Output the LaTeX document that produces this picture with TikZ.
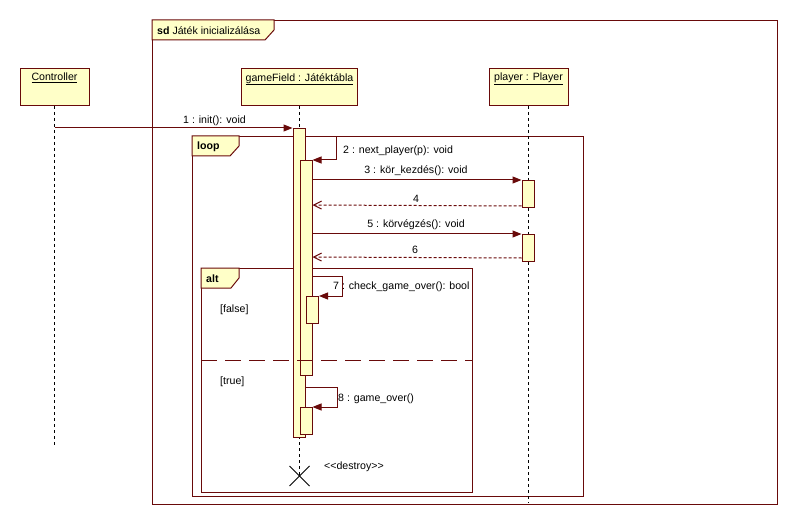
\documentclass[tikz,border=0pt]{standalone}
\usepackage{fontspec}
\setmainfont{Liberation Sans}
\usetikzlibrary{arrows.meta,calc}
\definecolor{ln}{RGB}{105,10,10}
\definecolor{fl}{RGB}{255,255,200}
\begin{document}
\begin{tikzpicture}[x=1pt,y=-1pt,font=\fontsize{10.6}{12.5}\selectfont,
  frame/.style={draw=ln,line width=1pt,inner sep=0pt,anchor=north west},
  hdr/.style={draw=ln,fill=fl,line width=1pt,inner sep=0pt,anchor=north west,minimum height=37pt},
  act/.style={draw=ln,fill=fl,line width=1pt,inner sep=0pt,anchor=north west,minimum width=12pt},
  lifeline/.style={draw=black,dash pattern=on 3pt off 3pt,line width=1pt},
  msg/.style={draw=ln,line width=1pt,-{Triangle[length=9pt,width=7pt]}},
  ret/.style={draw=ln,line width=1pt,dash pattern=on 3pt off 2pt,-{Straight Barb[length=8pt,width=8pt]}},
  lbl/.style={inner sep=0pt,text=black},
  tabshape/.style={draw=ln,fill=fl,line width=1pt},
  hdrtext/.style={anchor=north,yshift=-5pt,inner sep=0pt}]
\useasboundingbox (0,0) rectangle (796,524);
\fill[white] (0,0) rectangle (796,524);

% frames
\node[frame,minimum width=625pt,minimum height=484pt] (sd) at (152,20) {};
\node[frame,minimum width=391pt,minimum height=360pt] (loopf) at (192,136) {};
\node[frame,minimum width=271pt,minimum height=224pt] (altf) at (201,268) {};

\draw[tabshape] (sd.north west) -- ++(122,0) -- ++(0,10) -- ++(-9,10) -- (sd.north west |- 0,40) -- cycle;
\draw[tabshape] (loopf.north west) -- ++(47,0) -- ++(0,10) -- ++(-9,10) -- (loopf.north west |- 0,156) -- cycle;
\draw[tabshape] (altf.north west) -- ++(38,0) -- ++(0,10) -- ++(-8,10) -- (altf.north west |- 0,288) -- cycle;
\node[lbl,anchor=west] (sdlbl) at (157,31) {\textbf{sd} Játék inicializálása};
\node[lbl,anchor=west] (looplbl) at (197,147) {\textbf{loop}};
\node[lbl,anchor=west] (altlbl) at (206,279) {\textbf{alt}};

% headers
\node[hdr,minimum width=69pt,label={[hdrtext]north:\underline{Controller}}] (ctrl) at (19.5,68) {};
\node[hdr,minimum width=116pt,label={[hdrtext]north:\underline{gameField : Játéktábla}}] (gf) at (241,68) {};
\node[hdr,minimum width=79pt,label={[hdrtext]north:\underline{player : Player}}] (pl) at (488.5,68) {};

\coordinate (ctrlend) at (ctrl.south |- 0,447);
\coordinate (destroyX) at (gf.south |- 0,476);
\coordinate (plend) at (pl.south |- 0,503);

% lifelines
\draw[lifeline] (ctrl.south) -- (ctrlend);
\draw[lifeline] (gf.south) -- (destroyX);
\draw[lifeline] (pl.south) -- (plend);

% activations
\node[act,minimum height=309pt] (a1) at (292.5,128) {};
\node[act,minimum height=215pt] (a2) at (299.5,160) {};
\node[act,minimum height=27pt] (a3) at (306,296) {};
\node[act,minimum height=27pt] (a4) at (299.5,407) {};
\node[act,minimum height=27pt] (p1) at (521.5,180) {};
\node[act,minimum height=27pt] (p2) at (521.5,234) {};

% messages
\draw[msg] (ctrl.south |- a1.north west) -- (a1.north west);
\draw[msg] (a1.east |- 0,137) -- ++(31,0) |- (a2.north east);
\draw[msg] (a2.east |- p1.north) -- (p1.north west);
\draw[ret] ($(p1.south west)+(0,-2)$) -- (a2.east |- 0,205);
\draw[msg] (a2.east |- p2.north) -- (p2.north west);
\draw[ret] ($(p2.south west)+(0,-4)$) -- (a2.east |- 0,257);
\draw[msg] (a2.east |- 0,276) -- ++(30,0) |- (a3.north east);
\draw[msg] (a1.east |- 0,387) -- ++(32,0) |- (a4.north east);

% alt separator
\draw[ln,line width=1pt,dash pattern=on 16pt off 8pt] (altf.west |- 0,360) -- (altf.east |- 0,360);

% destroy
\draw[black,line width=0.8pt] ($(destroyX)+(-10,-10)$) -- ($(destroyX)+(10,10)$);
\draw[black,line width=0.8pt] ($(destroyX)+(10,-10)$) -- ($(destroyX)+(-10,10)$);

% labels
\node[lbl] (l1) at (214.5,121) {1 : init(): void};
\node[lbl,anchor=west] (l2) at (343,151) {2 : next\_player(p): void};
\node[lbl] (l3) at (416,171) {3 : kör\_kezdés(): void};
\node[lbl] (l4) at (416,199) {4};
\node[lbl] (l5) at (416,225) {5 : körvégzés(): void};
\node[lbl] (l6) at (415,250) {6};
\node[lbl,anchor=west] (l7) at (333,287) {7 : check\_game\_over(): bool};
\node[lbl,anchor=west] (lf) at (220,310) {[false]};
\node[lbl,anchor=west] (lt) at (220,382) {[true]};
\node[lbl,anchor=west] (l8) at (338,399) {8 : game\_over()};
\node[lbl,anchor=west] (ld) at (324,467) {<{}<destroy>{}>};
\end{tikzpicture}
\end{document}
